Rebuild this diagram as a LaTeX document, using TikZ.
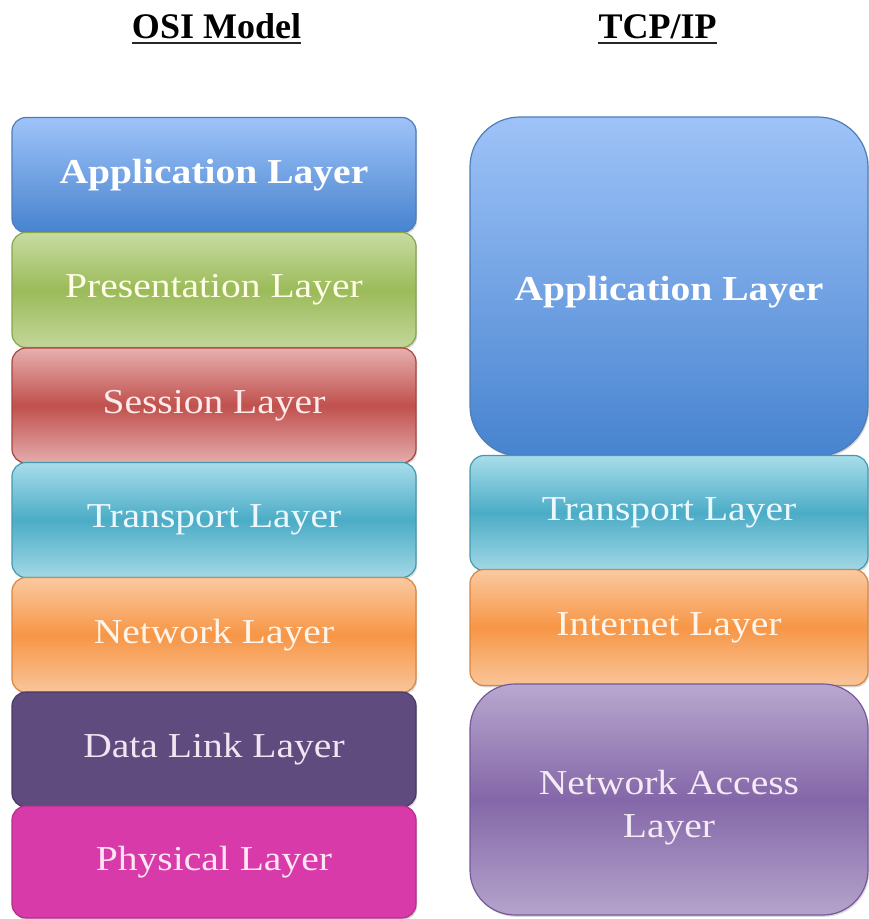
\documentclass[tikz,border=0pt]{standalone}
\usepackage{fontspec}
\usetikzlibrary{shadows}
\setmainfont{Liberation Serif}[FakeStretch=1.13]
\newfontfamily\headfont{Liberation Serif}
\definecolor{blueT}{HTML}{9EC3F8}\definecolor{blueB}{HTML}{4783CF}\definecolor{blueD}{HTML}{4F7DB8}
\definecolor{greenT}{HTML}{C8DBA2}\definecolor{greenM}{HTML}{9BBB59}\definecolor{greenB}{HTML}{C3D69B}\definecolor{greenD}{HTML}{88A54C}
\definecolor{redT}{HTML}{E6B0AF}\definecolor{redM}{HTML}{C0504D}\definecolor{redB}{HTML}{E4ADAC}\definecolor{redD}{HTML}{A9443F}
\definecolor{tealT}{HTML}{A8DDEA}\definecolor{tealM}{HTML}{4BACC6}\definecolor{tealB}{HTML}{A2D8E6}\definecolor{tealD}{HTML}{4599AF}
\definecolor{oraT}{HTML}{FAC9A0}\definecolor{oraM}{HTML}{F79646}\definecolor{oraB}{HTML}{F9C59A}\definecolor{oraD}{HTML}{D9853F}
\definecolor{dlF}{HTML}{5F4B7D}\definecolor{dlD}{HTML}{4A3A62}
\definecolor{phF}{HTML}{D93AAA}\definecolor{phD}{HTML}{B52E8D}
\definecolor{purT}{HTML}{B8A8CF}\definecolor{purM}{HTML}{8467A8}\definecolor{purB}{HTML}{B4A4CB}\definecolor{purD}{HTML}{75599A}
\tikzset{
  layerbox/.style={line width=1.2pt, rounded corners=14pt, inner sep=0pt, align=center,
    font=\fontsize{35}{43}\selectfont,
    drop shadow={shadow xshift=1.2pt, shadow yshift=-1.8pt, opacity=0.3}},
  osibox/.style={layerbox, minimum width=404pt, minimum height=115pt},
  tcpbox/.style={layerbox, minimum width=398pt},
  boxlabel/.style={inner sep=0pt, align=center, font=\fontsize{35}{43}\selectfont},
  headtext/.style={inner sep=0pt, anchor=base, font=\headfont\bfseries\fontsize{36}{40}\selectfont},
  uline/.style={line width=2.5pt, draw=black!85},
  blueshade/.style={draw=blueD, top color=blueT, bottom color=blueB, text=white},
  greenshade/.style={draw=greenD, top color=greenT, bottom color=greenB, middle color=greenM, text=white!90!yellow},
  redshade/.style={draw=redD, top color=redT, bottom color=redB, middle color=redM, text=white!92!red},
  tealshade/.style={draw=tealD, top color=tealT, bottom color=tealB, middle color=tealM, text=white!92!cyan},
  orashade/.style={draw=oraD, top color=oraT, bottom color=oraB, middle color=oraM, text=white!92!orange},
  dlshade/.style={draw=dlD, fill=dlF, text=white!90!violet},
  phshade/.style={draw=phD, fill=phF, text=white!90!magenta},
  purshade/.style={draw=purD, top color=purT, bottom color=purB, middle color=purM, text=white!92!violet},
}
\begin{document}
\begin{tikzpicture}[x=1pt, y=-1pt]
\useasboundingbox (0,0) rectangle (869,919);
% headings
\node[headtext] (osi) at (216.5,38) {OSI Model};
\draw[uline] ([yshift=-5pt]osi.base west) -- ([yshift=-5pt]osi.base east);
\node[headtext] (tcp) at (657.5,38) {TCP/IP};
\draw[uline] ([yshift=-5pt]tcp.base west) -- ([yshift=-5pt]tcp.base east);
% OSI column
\node[osibox, blueshade, font=\bfseries\fontsize{35}{43}\selectfont] (oapp) at (214,175) {Application Layer};
\node[osibox, greenshade] (opres) at (214,290) {Presentation Layer};
\node[osibox, redshade] (oses) at (214,405.5) {Session Layer};
\node[osibox, tealshade] (otra) at (214,520) {Transport Layer};
\node[osibox, orashade] (onet) at (214,635) {Network Layer};
\node[osibox, dlshade] (odl) at (214,749.5) {Data Link Layer};
\node[osibox, phshade, minimum height=112pt] (ophy) at (214,862) {Physical Layer};
% TCP/IP column
\node[tcpbox, blueshade, rounded corners=50pt, minimum height=339pt] (tapp) at (669,286.5) {};
\node[boxlabel, text=white, font=\bfseries\fontsize{35}{43}\selectfont] (tappt) at ([yshift=-6pt]tapp.center) {Application Layer};
\node[tcpbox, tealshade, minimum height=115pt] (ttra) at (669,513) {Transport Layer};
\node[tcpbox, orashade, minimum height=116pt] (tint) at (669,627.5) {Internet Layer};
\node[tcpbox, purshade, rounded corners=45pt, minimum height=231pt] (tna) at (669,799.5) {};
\node[boxlabel, text=white!92!violet] (tnat) at ([yshift=-8pt]tna.center) {Network Access\\Layer};
\end{tikzpicture}
\end{document}
